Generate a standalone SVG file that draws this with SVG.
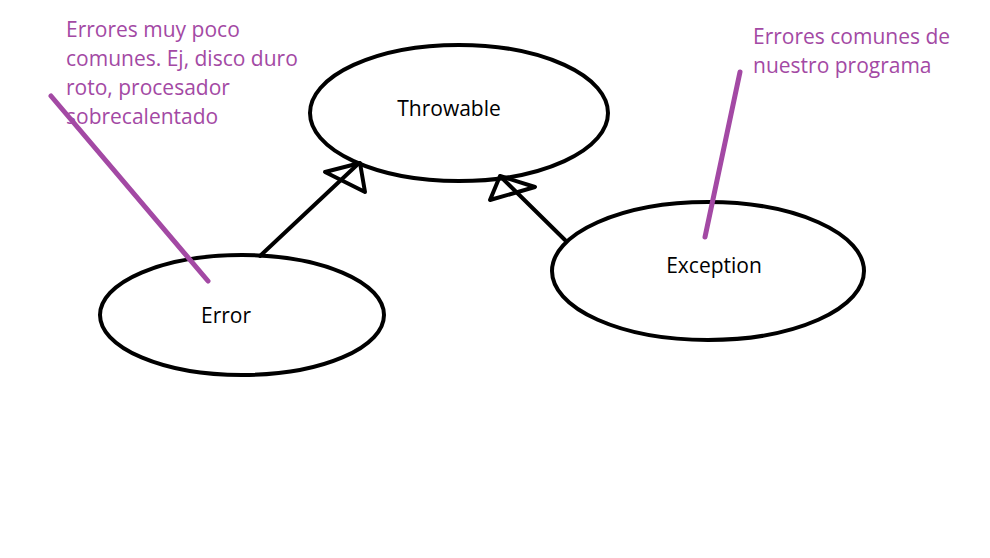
<svg xmlns="http://www.w3.org/2000/svg" width="990" height="558" viewBox="0 0 990 558">
<style>
.node{fill:none;stroke:#000;stroke-width:4}
.lbl{font-family:"Open Sans","Noto Sans",sans-serif;font-size:21px;fill:#000}
.note{font-family:"Open Sans","Noto Sans",sans-serif;font-size:21px;fill:#a349a4}
.conn{fill:none;stroke:#000;stroke-width:4;stroke-linejoin:round;stroke-linecap:round}
.ptr{fill:none;stroke:#a349a4;stroke-width:5;stroke-linecap:round}
</style>
<rect width="990" height="558" fill="#fff"/>
<g id="throwable">
<ellipse class="node" cx="459" cy="113" rx="149" ry="68"/>
<text class="lbl" x="449" y="116" text-anchor="middle">Throwable</text>
</g>
<g id="error">
<ellipse class="node" cx="242" cy="315" rx="142" ry="60"/>
<text class="lbl" x="226" y="323" text-anchor="middle">Error</text>
</g>
<g id="exception">
<ellipse class="node" cx="708" cy="271" rx="156" ry="69"/>
<text class="lbl" x="714" y="273" text-anchor="middle">Exception</text>
</g>
<g id="connectors">
<line class="conn" x1="260" y1="256" x2="358" y2="164"/>
<polygon class="conn" points="325,172 360,163 365,192"/>
<line class="conn" x1="565" y1="240" x2="501" y2="177"/>
<polygon class="conn" points="500,176 535,187 490,200"/>
</g>
<g id="notes">
<text class="note" x="66" y="37">Errores muy poco</text>
<text class="note" x="66" y="66">comunes. Ej, disco duro</text>
<text class="note" x="66" y="95">roto, procesador</text>
<text class="note" x="66" y="124">sobrecalentado</text>
<line class="ptr" x1="51" y1="96" x2="208" y2="281"/>
<text class="note" x="753" y="44">Errores comunes de</text>
<text class="note" x="753" y="73">nuestro programa</text>
<line class="ptr" x1="740" y1="72" x2="705" y2="237"/>
</g>
</svg>
